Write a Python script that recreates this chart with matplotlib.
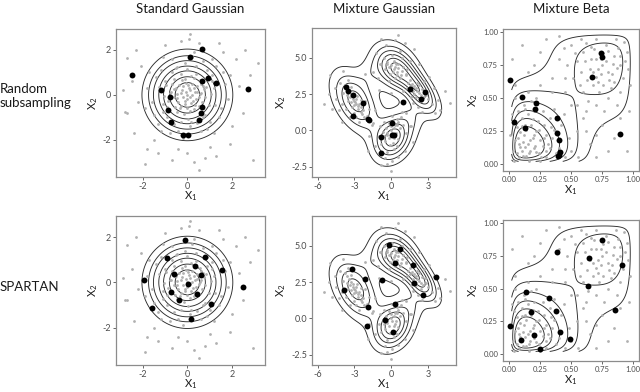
import math

import matplotlib
matplotlib.use("Agg")
import matplotlib.pyplot as plt
import numpy as np

plt.rcParams["font.family"] = ["Lato", "DejaVu Sans"]
plt.rcParams["mathtext.fontset"] = "custom"
plt.rcParams["mathtext.rm"] = "Lato"

# ---- data ----
titles = ["Standard Gaussian", "Mixture Gaussian", "Mixture Beta"]
row_labels = ["Random\nsubsampling", "SPARTAN"]

# background samples (grey)
sg_grey = [
    (0.1, 0.2), (-0.3, 0.1), (0.4, -0.2), (-0.1, -0.4), (0.2, 0.5), (-0.5, 0.3), (0.6, 0.1), (-0.2, -0.1),
    (0.3, 0.3), (0.0, -0.2), (-0.4, -0.3), (0.5, -0.5), (-0.6, -0.1), (0.1, -0.7), (-0.1, 0.7), (0.7, 0.4),
    (-0.7, 0.5), (0.2, 0.0), (-0.2, 0.4), (0.35, -0.45), (-0.35, -0.6), (0.05, 0.45), (0.55, 0.65),
    (-0.55, -0.55), (0.8, -0.1), (-0.8, 0.1), (0.15, 0.85), (-0.15, -0.85), (0.45, 0.15), (-0.45, 0.05),
    (0.25, -0.25), (-0.05, 0.15), (0.65, -0.3), (-0.25, 0.65), (0.0, 0.0), (-0.6, 0.7), (0.3, 0.75),
    (0.75, 0.25), (1.2, 0.3), (-1.1, -0.4), (0.4, 1.3), (-0.3, -1.2), (1.5, -0.6), (-1.4, 0.8), (0.9, 1.1),
    (-0.9, -1.0), (1.0, -1.2), (-1.2, 1.1), (1.7, 0.5), (-1.6, -0.3), (0.2, 1.7), (-0.4, -1.6), (1.3, 1.3),
    (-1.3, -1.3), (1.8, -0.2), (-1.8, 0.3), (0.6, -1.6), (-0.7, 1.6), (1.1, 0.9), (-1.0, 0.6), (0.8, -0.9),
    (-0.5, 1.2), (1.4, -1.0), (-1.5, -0.9), (0.1, -1.4), (-0.1, 1.4), (1.6, 1.0), (-1.7, 1.0), (0.9, -1.5),
    (-0.8, -1.7), (1.9, 0.9), (-1.2, -1.6), (1.2, -1.7), (-1.9, -0.6), (0.3, 1.9), (-0.2, -1.9), (1.1, 1.6),
    (-1.1, 1.7), (0.7, 1.5), (-0.6, -1.3), (2.3, 0.4), (-2.2, -0.3), (0.5, 2.3), (-0.4, -2.4), (2.0, -1.4),
    (-2.1, 1.3), (1.6, 1.9), (-1.5, -2.0), (2.5, -0.8), (-2.5, 0.6), (0.1, 2.7), (0.0, -2.6), (1.0, -2.3),
    (-1.0, 2.2), (2.8, 0.9), (-2.7, -0.8), (3.15, 1.41), (-2.72, 1.63), (-1.9, -3.08), (0.52, -3.33),
    (2.96, -2.89), (-2.79, -0.77), (0.09, 2.49), (1.3, -2.7), (-1.3, -2.6), (2.2, 1.6), (-2.3, 2.0),
    (1.9, -2.2), (-0.7, -2.9), (0.8, -2.8), (-2.9, 0.2), (2.6, 2.0), (-1.8, -2.4), (0.3, -3.0), (-0.3, 2.4),
    (1.4, 2.3), (-2.4, -1.7),
    (0.12, -0.08), (-0.22, 0.22), (0.33, 0.12), (-0.12, -0.28), (0.42, 0.38), (-0.38, 0.42), (0.18, -0.38),
    (-0.48, -0.12), (0.08, 0.32), (-0.28, -0.48), (0.52, -0.08), (-0.08, 0.55), (0.28, -0.62), (-0.62, 0.28),
    (0.62, 0.48), (-0.45, -0.75), (0.85, 0.35), (-0.85, -0.25), (0.38, 0.95), (-0.3, 0.95), (0.95, -0.45),
    (-0.95, 0.45), (0.05, -1.05), (1.05, 0.05), (-1.05, -0.05), (0.7, -1.0), (-0.7, 1.0), (1.25, -0.45),
    (-1.25, 0.35), (0.45, -1.25), (-0.45, 1.25), (1.1, 0.6), (-1.1, -0.75), (0.0, 1.15), (0.15, -1.2),
    (-0.9, -0.55), (0.9, 0.7), (0.58, 0.02), (-0.02, -0.58), (-0.72, 0.12),
]
mg_grey = [
    (-3.0, 2.0), (-3.3, 2.5), (-2.7, 1.5), (-3.6, 2.9), (-2.4, 1.1), (-3.1, 2.2), (-2.9, 1.8), (-3.4, 2.3),
    (-2.6, 1.8), (-3.2, 1.6), (-2.8, 2.4), (-3.8, 3.1), (-2.2, 0.9), (-3.5, 2.0), (-2.5, 2.1), (-3.9, 2.6),
    (-2.3, 1.4), (-3.0, 1.2), (-3.3, 3.0), (-2.0, 1.0), (-4.2, 3.3), (-4.5, 2.2), (-3.7, 1.5), (-2.1, 2.0),
    (-4.0, 1.8), (-2.6, 0.6), (-3.5, 3.5), (-1.8, 1.5), (-4.6, 2.9), (-2.9, 0.9), (-5.1, 2.5), (-4.3, 1.4),
    (-3.4, 0.9), (-1.6, 0.4), (-5.0, 3.8), (-4.8, 1.5), (-3.9, 4.1),
    (0.0, 0.0), (0.3, 0.4), (-0.3, -0.3), (0.5, 0.8), (-0.5, -0.7), (0.2, -0.5), (-0.2, 0.5), (0.7, 0.2),
    (-0.7, -0.1), (0.4, -0.2), (-0.4, 0.2), (0.1, 1.0), (-0.1, -1.0), (0.8, 0.9), (-0.8, -0.9), (0.6, -0.6),
    (-0.6, 0.6), (1.0, 0.4), (-1.0, -0.4), (0.2, -1.3), (-0.3, -1.5), (0.5, -1.1), (-0.9, 0.3), (1.2, -0.2),
    (-1.3, -1.1), (0.9, 1.3), (-0.5, -1.9), (0.1, -2.1), (-0.8, -2.4), (0.6, -1.8), (1.5, 0.3), (-1.5, 0.5),
    (0.0, -2.8), (1.8, -0.8), (-1.9, -1.4), (-0.3, -2.3), (1.1, -1.4),
    (0.2, 4.2), (0.0, 4.5), (0.5, 4.0), (-0.3, 4.7), (0.8, 3.8), (-0.1, 3.9), (0.4, 4.6), (0.6, 4.3),
    (-0.5, 4.2), (0.3, 3.6), (1.0, 4.4), (-0.6, 5.0), (0.1, 5.2), (0.9, 5.0), (-0.9, 4.6), (1.2, 3.9),
    (-0.2, 3.4), (0.7, 5.5), (-1.2, 5.3), (1.5, 4.8), (0.3, 6.2), (-0.4, 5.9), (1.1, 6.0), (-1.5, 4.0),
    (1.9, 5.6), (0.6, 6.6), (-1.1, 3.6), (2.3, 4.6), (-0.8, 6.3),
    (2.0, 2.9), (1.7, 3.2), (2.3, 2.6), (1.5, 3.5), (2.6, 2.3), (1.9, 2.5), (2.1, 3.3), (1.3, 2.9),
    (2.8, 2.8), (2.4, 2.0), (1.6, 2.3), (3.0, 2.2), (1.2, 3.8), (2.7, 3.4), (3.3, 1.8), (1.0, 2.7),
    (2.2, 1.6), (3.5, 2.9), (3.8, 2.1), (1.8, 1.9), (3.1, 3.7), (2.5, 1.3), (4.0, 1.4), (3.6, 1.2),
    (4.4, 2.7), (-1.0, 2.8), (1.2, 1.2), (-1.3, 1.4), (0.0, 2.6), (-4.0, 0.6), (-5.5, 1.8), (4.8, 1.9),
    (-2.1, 3.9), (1.6, 0.3), (-1.8, -0.4),
    (-2.95, 1.95), (-3.15, 2.35), (-2.75, 1.65), (-3.45, 2.7), (-2.5, 1.3), (-3.05, 1.75), (-2.85, 2.2),
    (-3.6, 2.45), (-2.45, 1.6), (-3.25, 1.95), (0.1, -0.2), (0.25, 0.15), (-0.15, -0.55), (0.45, 0.35),
    (-0.35, -0.15), (0.15, -0.85), (-0.05, 0.3), (0.35, -0.4), (-0.55, -0.35), (0.6, 0.55), (0.35, 4.35),
    (0.15, 4.0), (0.6, 4.55), (-0.15, 4.35), (0.9, 4.1), (0.45, 3.85), (-0.35, 4.55), (0.25, 4.75),
    (0.75, 3.6), (1.3, 4.2), (1.85, 3.05), (2.15, 2.75), (2.45, 2.45), (1.55, 3.05), (2.05, 2.3),
    (2.55, 2.85), (1.75, 2.7), (2.25, 3.1), (2.85, 2.45), (1.4, 3.3),
]
mb_grey = [
    (0.15, 0.15), (0.1, 0.1), (0.2, 0.12), (0.12, 0.22), (0.25, 0.18), (0.08, 0.05), (0.18, 0.3), (0.3, 0.1),
    (0.05, 0.18), (0.22, 0.25), (0.14, 0.06), (0.28, 0.3), (0.1, 0.35), (0.35, 0.2), (0.06, 0.28), (0.2, 0.4),
    (0.4, 0.12), (0.03, 0.1), (0.16, 0.02), (0.33, 0.35), (0.24, 0.08), (0.12, 0.45), (0.42, 0.3), (0.08, 0.15),
    (0.19, 0.2), (0.26, 0.05), (0.3, 0.22), (0.02, 0.38), (0.45, 0.05), (0.36, 0.42), (0.13, 0.3), (0.22, 0.5),
    (0.04, 0.02), (0.17, 0.1), (0.09, 0.24), (0.38, 0.08), (0.27, 0.4), (0.48, 0.2), (0.21, 0.14), (0.11, 0.17),
    (0.31, 0.15), (0.07, 0.4), (0.15, 0.38), (0.44, 0.38), (0.25, 0.02), (0.01, 0.22), (0.34, 0.28),
    (0.18, 0.48), (0.5, 0.1), (0.23, 0.33),
    (0.75, 0.75), (0.7, 0.8), (0.8, 0.7), (0.65, 0.72), (0.85, 0.82), (0.72, 0.62), (0.6, 0.85), (0.9, 0.75),
    (0.78, 0.9), (0.68, 0.6), (0.82, 0.58), (0.58, 0.7), (0.88, 0.88), (0.62, 0.92), (0.92, 0.65),
    (0.74, 0.68), (0.66, 0.8), (0.84, 0.76), (0.55, 0.78), (0.95, 0.85), (0.7, 0.95), (0.8, 0.5), (0.6, 0.55),
    (0.5, 0.9), (0.86, 0.95), (0.76, 0.84), (0.9, 0.55), (0.52, 0.65), (0.64, 0.48), (0.96, 0.72),
    (0.73, 0.55), (0.58, 0.95), (0.81, 0.64), (0.69, 0.87), (0.93, 0.93), (0.47, 0.75), (0.87, 0.45),
    (0.77, 0.4), (0.55, 0.45), (0.98, 0.6),
    (0.05, 0.6), (0.15, 0.7), (0.25, 0.85), (0.35, 0.65), (0.1, 0.9), (0.3, 0.95), (0.45, 0.55), (0.4, 0.8),
    (0.2, 0.75), (0.55, 0.25), (0.65, 0.15), (0.75, 0.3), (0.85, 0.2), (0.95, 0.1), (0.7, 0.05), (0.6, 0.35),
    (0.9, 0.35), (0.5, 0.45), (0.45, 0.65), (0.35, 0.55), (0.05, 0.5), (0.25, 0.6), (0.62, 0.25), (0.8, 0.1),
    (0.97, 0.4), (0.02, 0.8), (0.4, 0.97), (0.56, 0.05), (0.7, 0.22), (0.15, 0.55),
    (0.13, 0.13), (0.17, 0.18), (0.09, 0.13), (0.22, 0.09), (0.14, 0.26), (0.27, 0.14), (0.06, 0.08),
    (0.11, 0.06), (0.2, 0.22), (0.16, 0.08), (0.24, 0.26), (0.07, 0.2), (0.3, 0.05), (0.1, 0.29), (0.33, 0.12),
    (0.19, 0.34), (0.04, 0.33), (0.36, 0.26), (0.28, 0.2), (0.13, 0.42), (0.72, 0.72), (0.78, 0.78),
    (0.68, 0.7), (0.83, 0.68), (0.74, 0.8), (0.63, 0.64), (0.87, 0.73), (0.7, 0.66), (0.8, 0.86), (0.61, 0.78),
    (0.9, 0.82), (0.66, 0.89), (0.76, 0.6), (0.85, 0.62), (0.57, 0.6), (0.94, 0.78), (0.53, 0.84),
    (0.44, 0.88), (0.62, 0.4), (0.7, 0.45),
]

# selected subsamples (black)
rs_sg = [(-2.5, 0.9), (0.66, 2.03), (0.12, 1.7), (0.93, 0.77), (0.66, 0.61), (1.29, 0.55), (-1.17, 0.22),
         (-0.78, -0.1), (-0.85, -0.67), (0.64, -0.52), (0.6, -0.79), (0.54, -1.11), (-0.73, -1.2),
         (-0.18, -1.79), (0.03, -1.79), (2.7, 0.28)]
sp_sg = [(-0.12, 1.89), (-0.9, 1.08), (0.79, 1.14), (0.33, 0.71), (1.55, 0.56), (-0.6, 0.37), (0.6, 0.31),
         (-1.93, 0.12), (0.01, -0.09), (-0.72, -0.42), (0.43, -0.53), (-0.39, -0.77), (1.08, -0.96),
         (-1.6, -1.14), (0.17, -1.62), (2.51, -0.2)]
rs_mg = [(-3.69, 2.99), (-3.5, 2.71), (-3.09, 2.46), (-2.33, 1.91), (-3.15, 0.99), (-1.89, 0.81),
         (-1.8, 0.75), (1.5, 2.83), (2.73, 2.62), (2.4, 2.14), (0.98, 1.95), (0.1, 0.53), (-0.8, -0.45),
         (0.1, -0.3), (0.2, -0.33), (-0.85, -1.56)]
sp_mg = [(-0.19, 5.03), (0.76, 4.8), (0.35, 3.79), (1.75, 3.68), (-3.2, 3.4), (-2.11, 2.69), (-0.74, 2.64),
         (3.63, 2.83), (1.83, 2.44), (-3.85, 1.93), (2.57, 1.59), (-1.89, 0.8), (0.33, 0.99), (-0.52, -0.11),
         (-1.94, -0.55), (0.16, -0.9)]
rs_mb = [(0.004, 0.64), (0.102, 0.51), (0.216, 0.46), (0.208, 0.42), (0.037, 0.32), (0.124, 0.27),
         (0.384, 0.35), (0.384, 0.235), (0.402, 0.18), (0.41, 0.09), (0.392, 0.06), (0.40, 0.07),
         (0.67, 0.66), (0.746, 0.84), (0.752, 0.815), (0.90, 0.228)]
sp_mb = [(0.386, 0.78), (0.75, 0.87), (0.646, 0.737), (0.912, 0.68), (0.64, 0.52), (0.134, 0.473),
         (0.319, 0.43), (0.376, 0.33), (0.857, 0.338), (0.177, 0.323), (0.01, 0.214), (0.41, 0.168),
         (0.202, 0.147), (0.096, 0.109), (0.49, 0.114), (0.25, 0.038)]

# smoothed target densities behind the contour lines
mg_weights = [0.27, 0.24, 0.26, 0.17, 0.02, 0.025]
mg_means = [(-2.9, 2.0), (0.15, -0.5), (0.3, 4.3), (2.3, 2.7), (-1.8, 3.9), (1.7, 1.0)]
mg_covs = [[[1.4, -0.7], [-0.7, 1.7]], [[1.0, 0.25], [0.25, 1.0]],
           [[1.16, -0.3], [-0.3, 0.96]], [[0.9, -0.6], [-0.6, 1.0]],
           [[0.5, 0.0], [0.0, 0.5]], [[0.5, 0.0], [0.0, 0.5]]]
mb_weights = [0.62, 0.38]
mb_params = [(1.5, 4.2), (3.0, 1.6)]

sg_levels = [0.02, 0.035, 0.05, 0.07, 0.09, 0.115, 0.137]
mg_levels = [0.0058, 0.013, 0.020, 0.027, 0.034, 0.041]
mb_levels = [0.49, 0.98, 1.47, 1.96, 2.45, 2.94]


def gauss2(X, Y, mean, cov):
    cov = np.asarray(cov)
    inv = np.linalg.inv(cov)
    dx, dy = X - mean[0], Y - mean[1]
    q = inv[0, 0] * dx * dx + 2 * inv[0, 1] * dx * dy + inv[1, 1] * dy * dy
    return np.exp(-0.5 * q) / (2 * np.pi * np.sqrt(np.linalg.det(cov)))


def beta_pdf(x, a, b):
    lb = math.lgamma(a) + math.lgamma(b) - math.lgamma(a + b)
    return np.exp((a - 1) * np.log(x) + (b - 1) * np.log(1 - x) - lb)


def sg_density(X, Y):
    return gauss2(X, Y, (0, 0), [[1, 0], [0, 1]])


def mg_density(X, Y):
    return sum(w * gauss2(X, Y, m, c) for w, m, c in zip(mg_weights, mg_means, mg_covs))


def mb_density(X, Y):
    return sum(w * beta_pdf(X, a, b) * beta_pdf(Y, a, b) for w, (a, b) in zip(mb_weights, mb_params))


grid_sg = np.meshgrid(np.linspace(-3.5, 3.5, 300), np.linspace(-3.5, 3.5, 300))
grid_mg = np.meshgrid(np.linspace(-6.5, 5.5, 300), np.linspace(-3.2, 7.0, 300))
grid_mb = np.meshgrid(np.linspace(0.02, 0.999, 300), np.linspace(0.02, 0.999, 300))

panels = [
    dict(grey=sg_grey, grid=grid_sg, Z=sg_density(*grid_sg), levels=sg_levels,
         xlim=(-3.2, 3.48), ylim=(-3.65, 2.93), xticks=[-2, 0, 2], yticks=[-2, 0, 2],
         xfmt="{:g}", yfmt="{:g}", tsize=6.5, lsize=8, xpad=-1),
    dict(grey=mg_grey, grid=grid_mg, Z=mg_density(*grid_mg), levels=mg_levels,
         xlim=(-6.47, 5.3), ylim=(-3.2, 7.05), xticks=[-6, -3, 0, 3], yticks=[-2.5, 0, 2.5, 5.0],
         xfmt="{:g}", yfmt="{:.1f}", tsize=6.5, lsize=8, xpad=-1),
    dict(grey=mb_grey, grid=grid_mb, Z=mb_density(*grid_mb), levels=mb_levels,
         xlim=(-0.05, 1.05), ylim=(-0.053, 1.025), xticks=[0, 0.25, 0.5, 0.75, 1.0],
         yticks=[0, 0.25, 0.5, 0.75, 1.0], xfmt="{:.2f}", yfmt="{:.2f}", tsize=5.5, lsize=8, xpad=0),
]
selected = [[rs_sg, rs_mg, rs_mb], [sp_sg, sp_mg, sp_mb]]

# axes boxes in pixels (left, top, right, bottom) of a 640x392 figure
boxes = [
    [(116, 29, 265, 177), (312, 28, 456, 177), (503, 29, 639, 171)],
    [(116, 216, 265, 365), (312, 216, 456, 365), (503, 220, 639, 361)],
]

W, H = 640, 392
fig = plt.figure(figsize=(6.4, 3.92), dpi=100)
tick_col = "#4d4d4d"
frame_col = "#8c8c8c"
text_col = "#1a1a1a"

for r in range(2):
    for c in range(3):
        l, t, rr, b = boxes[r][c]
        ax = fig.add_axes([l / W, 1 - b / H, (rr - l) / W, (b - t) / H])
        p = panels[c]
        ax.contour(p["grid"][0], p["grid"][1], p["Z"], levels=p["levels"],
                   colors="#2b2b2b", linewidths=0.65, zorder=1)
        g = np.array(p["grey"])
        ax.scatter(g[:, 0], g[:, 1], s=4, color="#b0b0b0", linewidths=0, zorder=2)
        s = np.array(selected[r][c])
        ax.scatter(s[:, 0], s[:, 1], s=18, color="black", linewidths=0, zorder=3)
        ax.set_xlim(p["xlim"])
        ax.set_ylim(p["ylim"])
        ax.set_xticks(p["xticks"])
        ax.set_yticks(p["yticks"])
        ax.set_xticklabels([p["xfmt"].format(v) for v in p["xticks"]])
        ax.set_yticklabels([p["yfmt"].format(v) for v in p["yticks"]])
        ax.tick_params(labelsize=p["tsize"], colors=tick_col, length=2, width=0.6, pad=1.5)
        for sp in ax.spines.values():
            sp.set_color(frame_col)
            sp.set_linewidth(0.9)
        ax.set_xlabel(r"$\mathregular{X_1}$", fontsize=p["lsize"], labelpad=p["xpad"], color=text_col)
        ax.set_ylabel(r"$\mathregular{X_2}$", fontsize=p["lsize"], labelpad=2, color=text_col)

for c, title in enumerate(titles):
    l, t, rr, b = boxes[0][c]
    fig.text((l + rr) / 2 / W, 1 - 9 / H, title, ha="center", va="center", fontsize=9.5, color=text_col)

fig.text(0, 1 - 96 / H, row_labels[0], ha="left", va="center", fontsize=9.5, color=text_col,
         linespacing=1.25)
fig.text(0, 1 - 287 / H, row_labels[1], ha="left", va="center", fontsize=9.5, color=text_col)

fig.savefig("out.png", dpi=100, facecolor="white")
